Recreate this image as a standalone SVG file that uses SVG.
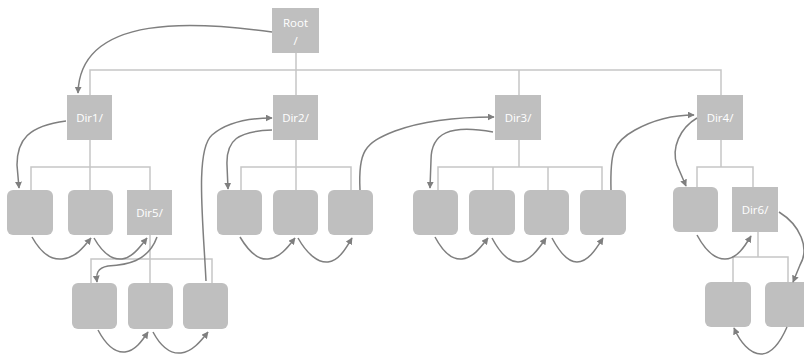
<svg xmlns="http://www.w3.org/2000/svg" width="804" height="358" viewBox="0 0 804 358">
<defs>
<style>
.dir{fill:#bfbfbf;}
.leaf{fill:#bfbfbf;}
.t{font-family:"Open Sans","Liberation Sans",sans-serif;font-size:11.5px;fill:#ffffff;text-anchor:middle;}
.tree{fill:none;stroke:#c6c6c6;stroke-width:1.5;}
.nav{fill:none;stroke:#7f7f7f;stroke-width:1.5;marker-end:url(#ah);}
</style>
<marker id="ah" viewBox="0 0 10 10" refX="9" refY="5" markerWidth="7" markerHeight="7" markerUnits="userSpaceOnUse" orient="auto">
<path d="M0,0 L10,5 L0,10 z" fill="#7f7f7f"/>
</marker>
</defs>
<rect width="804" height="358" fill="#ffffff"/>

<g id="tree-lines">
<path class="tree" d="M296,52 V95 M90,95 V70 H721 V95 M519,70 V95"/>
<path class="tree" d="M90,140 V167 M31,190 V167 H150 V190 M90,167 V190"/>
<path class="tree" d="M150,235 V283 M91,283 V259 H212 V283"/>
<path class="tree" d="M296,140 V190 M241,190 V167 H351 V190"/>
<path class="tree" d="M519,140 V167 M438,190 V167 H602 V190 M493,167 V190 M548,167 V190"/>
<path class="tree" d="M721,140 V167 M697,187 V167 H753 V187"/>
<path class="tree" d="M758,232 V257 M733,282 V257 H788 V282"/>
</g>

<g id="root"><rect class="dir" x="272" y="8" width="47" height="45"/><text class="t" x="295.5" y="27">Root</text><text class="t" x="295.5" y="45">/</text></g>
<g id="dir1"><rect class="dir" x="67" y="95" width="45" height="45"/><text class="t" x="89.5" y="122">Dir1/</text></g>
<g id="dir2"><rect class="dir" x="273" y="95" width="45" height="45"/><text class="t" x="295.5" y="122">Dir2/</text></g>
<g id="dir3"><rect class="dir" x="495" y="95" width="46" height="45"/><text class="t" x="518" y="122">Dir3/</text></g>
<g id="dir4"><rect class="dir" x="697" y="95" width="46" height="45"/><text class="t" x="720" y="122">Dir4/</text></g>

<g id="d1c1"><rect class="leaf" x="7" y="190" width="46" height="45" rx="6"/></g>
<g id="d1c2"><rect class="leaf" x="68" y="190" width="45" height="45" rx="6"/></g>
<g id="dir5"><rect class="dir" x="127" y="190" width="45" height="45"/><text class="t" x="149.5" y="217">Dir5/</text></g>

<g id="d5c1"><rect class="leaf" x="72" y="283" width="45" height="46" rx="6"/></g>
<g id="d5c2"><rect class="leaf" x="128" y="283" width="45" height="46" rx="6"/></g>
<g id="d5c3"><rect class="leaf" x="183" y="283" width="45" height="46" rx="6"/></g>

<g id="d2c1"><rect class="leaf" x="217" y="190" width="45" height="45" rx="6"/></g>
<g id="d2c2"><rect class="leaf" x="273" y="190" width="45" height="45" rx="6"/></g>
<g id="d2c3"><rect class="leaf" x="328" y="190" width="45" height="45" rx="6"/></g>

<g id="d3c1"><rect class="leaf" x="413" y="190" width="45" height="45" rx="6"/></g>
<g id="d3c2"><rect class="leaf" x="469" y="190" width="46" height="45" rx="6"/></g>
<g id="d3c3"><rect class="leaf" x="524" y="190" width="45" height="45" rx="6"/></g>
<g id="d3c4"><rect class="leaf" x="580" y="190" width="46" height="45" rx="6"/></g>

<g id="d4c1"><rect class="leaf" x="673" y="187" width="45" height="45" rx="6"/></g>
<g id="dir6"><rect class="dir" x="732" y="187" width="46" height="45"/><text class="t" x="755" y="214">Dir6/</text></g>

<g id="d6c1"><rect class="leaf" x="705" y="282" width="46" height="45" rx="6"/></g>
<g id="d6c2"><rect class="leaf" x="765" y="282" width="46" height="45" rx="6"/></g>

<g id="connectors">
<path class="nav" d="M272,32 C200,22 80,12 78,93"/>
<path class="nav" d="M66,121 C28,126 17,140 17,165 L19,188"/>
<path class="nav" d="M32,237 C42,255 52,260 62,259 C75,258 83,248 91,238"/>
<path class="nav" d="M94,238 C102,252 112,260 122,259 C132,258 140,247 147,238"/>
<path class="nav" d="M157,237 C148,262 126,265 108,266 C97,268 96,274 97,282"/>
<path class="nav" d="M98,330 C106,345 115,353 125,352 C135,351 142,341 148,332"/>
<path class="nav" d="M153,332 C161,347 171,354 181,353 C192,352 201,341 208,332"/>
<path class="nav" d="M206,281 C203,220 195,150 212,135 C228,121 250,118 272,118"/>
<path class="nav" d="M272,130 C238,131 226,140 227,165 L228,189"/>
<path class="nav" d="M240,237 C249,252 259,260 268,259 C280,258 288,247 295,238"/>
<path class="nav" d="M298,238 C307,254 318,263 328,262 C339,261 346,248 352,238"/>
<path class="nav" d="M360,190 C358,152 364,143 395,131 C425,120 460,117 494,117"/>
<path class="nav" d="M493,132 C450,124 431,133 431,160 L430,188"/>
<path class="nav" d="M435,237 C443,252 452,260 462,259 C473,258 481,247 488,238"/>
<path class="nav" d="M492,238 C500,253 509,262 518,262 C529,262 538,250 546,238"/>
<path class="nav" d="M552,238 C560,253 568,262 577,262 C588,262 596,249 603,238"/>
<path class="nav" d="M611,190 C610,152 613,142 635,130 C655,119 675,115 694,115"/>
<path class="nav" d="M697,118 C680,128 671,148 677,165 L686,186"/>
<path class="nav" d="M697,235 C705,250 715,259 725,259 C737,259 745,246 751,236"/>
<path class="nav" d="M779,212 C800,225 810,248 800,265 L793,282"/>
<path class="nav" d="M787,327 C780,343 771,354 761,354 C750,354 740,342 734,328"/>
</g>
</svg>
